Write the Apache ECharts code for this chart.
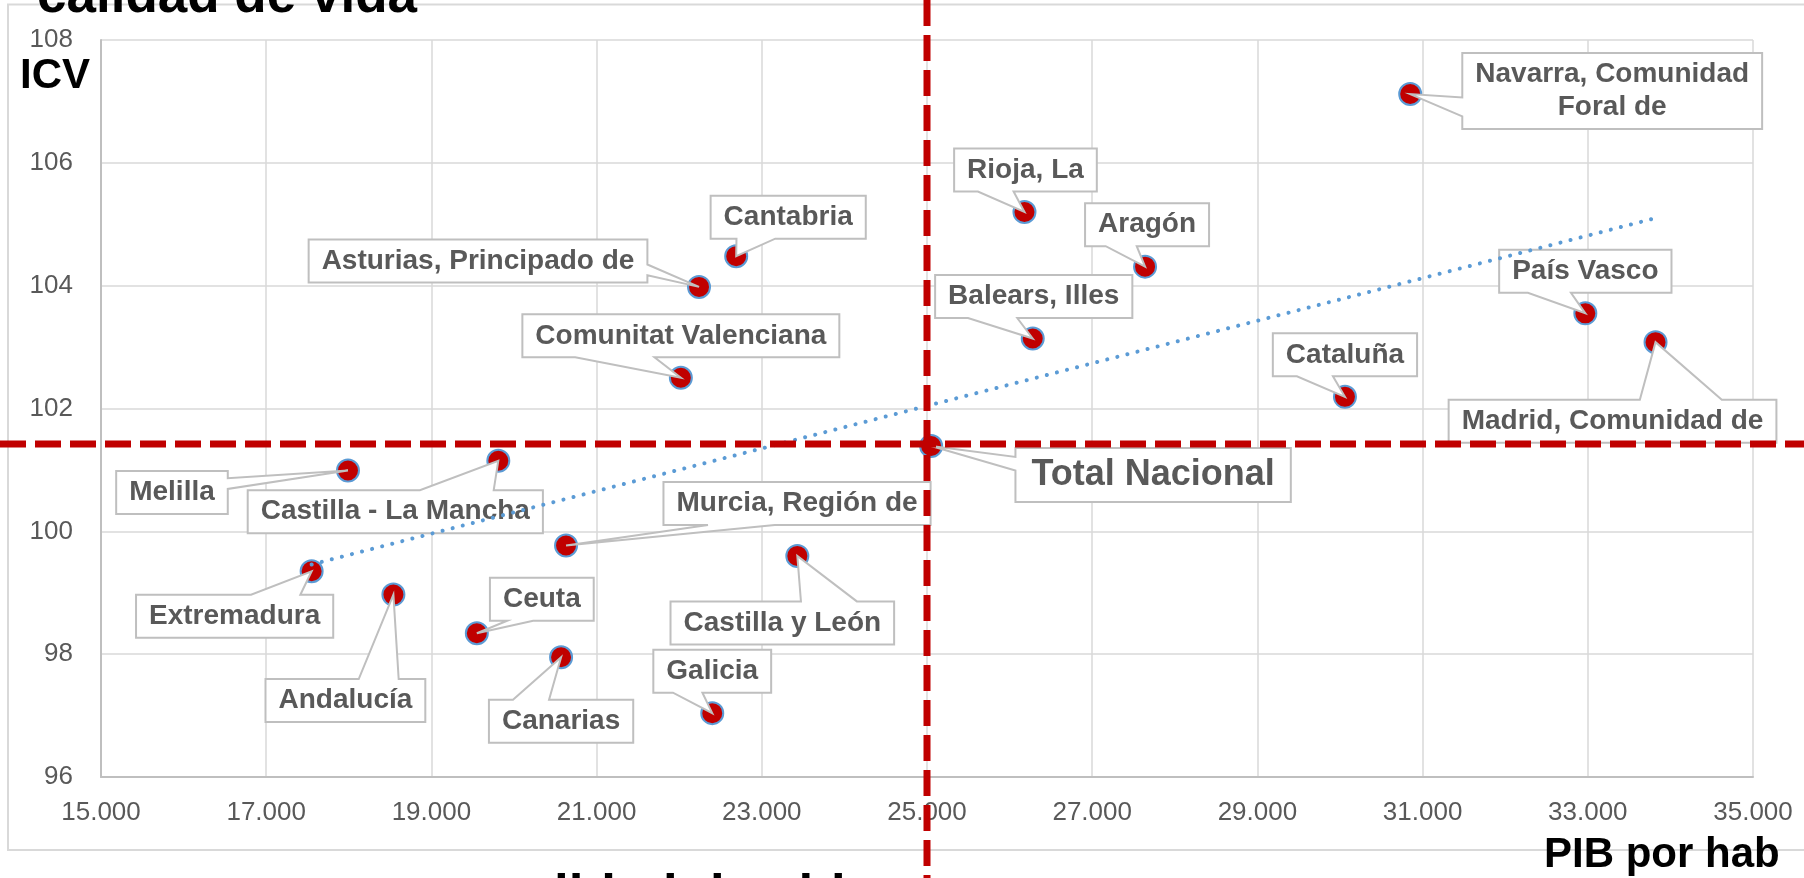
<!DOCTYPE html>
<html>
<head>
<meta charset="utf-8">
<title>PIB por habitante e ICV</title>
<script src="https://cdn.jsdelivr.net/npm/echarts@6/dist/echarts.min.js"></script>
<style>
  html, body { margin: 0; padding: 0; background: #fff; }
  #chart { width: 1804px; height: 878px; }
</style>
</head>
<body>
<div id="chart"></div>
<script>
// Comunidades autónomas: PIB por habitante (x) e índice de calidad de vida (y)
const regiones = [
    'Navarra, Comunidad\nForal de', 'Rioja, La', 'Aragón', 'Cantabria',
    'Asturias, Principado de', 'Balears, Illes', 'País Vasco', 'Madrid, Comunidad de',
    'Comunitat Valenciana', 'Cataluña', 'Total Nacional', 'Melilla',
    'Castilla - La Mancha', 'Murcia, Región de', 'Castilla y León', 'Extremadura',
    'Andalucía', 'Ceuta', 'Canarias', 'Galicia'
];
const pibPorHab = [
    30850, 26180, 27640, 22690,
    22240, 26280, 32970, 33820,
    22020, 30060, 25050, 17990,
    19810, 20630, 23430, 17550,
    18540, 19550, 20570, 22400
];
const icv = [
    107.12, 105.20, 104.31, 104.48,
    103.98, 103.14, 103.55, 103.08,
    102.50, 102.19, 101.39, 100.99,
    101.15, 99.77, 99.60, 99.35,
    98.97, 98.34, 97.95, 97.04
];

// línea de tendencia (extremos)
const tendencia = [[17550, 99.46], [33820, 105.10]];
// líneas de referencia de la media nacional
const mediaPib = 25000;
const mediaIcv = 101.42;

// ejes
const ejeX = { min: 15000, max: 35000, interval: 2000 };
const ejeY = { min: 96, max: 108, interval: 2 };

// desplazamiento (px) del centro de cada etiqueta respecto a su punto
const desplazEtiquetas = [
    [202, -3], [1, -42], [2, -42], [52, -39],
    [-221, -26], [1, -42], [0, -42], [-43, 79],
    [0, -42], [0, -42], [222, 29], [-176, 22],
    [-103, 51], [231, -42], [-15, 67], [-77, 45],
    [-48, 106], [65, -34], [0, 64], [0, -42]
];

const FONT = '"Liberation Sans", Arial, sans-serif';
const measureCtx = document.createElement('canvas').getContext('2d');
function anchoTexto(s, font) {
    measureCtx.font = font;
    return measureCtx.measureText(s).width;
}

// miles con punto: 15000 -> 15.000
function miles(v) {
    return String(v).replace(/\B(?=(\d{3})+(?!\d))/g, '.');
}

// rectángulo con cuña (estilo "llamada" de Excel) apuntando a pt
function llamada(l, t, r, b, pt) {
    const w = r - l, h = b - t;
    const dx = pt[0] - (l + r) / 2, dy = pt[1] - (t + b) / 2;
    const dz = Math.abs(dy) - Math.abs(dx * h / w);
    const xa = l + w * (dx > 0 ? 7 : 2) / 12, xb = l + w * (dx > 0 ? 10 : 5) / 12;
    const ya = t + h * (dy > 0 ? 7 : 2) / 12, yb = t + h * (dy > 0 ? 10 : 5) / 12;
    const pts = [[l, t]];
    if (dz > 0 && dy < 0) pts.push([xa, t], pt, [xb, t]);
    pts.push([r, t]);
    if (dz <= 0 && dx > 0) pts.push([r, ya], pt, [r, yb]);
    pts.push([r, b]);
    if (dz > 0 && dy > 0) pts.push([xb, b], pt, [xa, b]);
    pts.push([l, b]);
    if (dz <= 0 && dx < 0) pts.push([l, yb], pt, [l, ya]);
    return pts;
}

const puntos = regiones.map((n, i) => [pibPorHab[i], icv[i], n]);

const chart = echarts.init(document.getElementById('chart'));

const option = {
    animation: false,
    backgroundColor: '#fff',
    grid: { left: 101, right: 51, top: 40, bottom: 101 },
    xAxis: {
        type: 'value',
        min: ejeX.min, max: ejeX.max, interval: ejeX.interval,
        axisLine: { show: true, lineStyle: { color: '#BFBFBF', width: 2 } },
        axisTick: { show: false },
        axisLabel: {
            margin: 23,
            color: '#595959',
            fontFamily: FONT,
            fontSize: 26,
            formatter: v => miles(v)
        },
        splitLine: { show: true, lineStyle: { color: '#D9D9D9', width: 1.5 } }
    },
    yAxis: {
        type: 'value',
        min: ejeY.min, max: ejeY.max, interval: ejeY.interval,
        axisLine: { show: true, lineStyle: { color: '#BFBFBF', width: 2 } },
        axisTick: { show: false },
        axisLabel: {
            margin: 28,
            color: '#595959',
            fontFamily: FONT,
            fontSize: 26
        },
        splitLine: { show: true, lineStyle: { color: '#D9D9D9', width: 1.5 } }
    },
    graphic: [
        {
            type: 'rect', z: -1, silent: true,
            shape: { x: 8, y: 4.5, width: 1800, height: 845.5 },
            style: { fill: 'none', stroke: '#D9D9D9', lineWidth: 2 }
        },
        {
            type: 'text', z: 10, x: 37, y: -3,
            style: { text: 'calidad de vida', font: 'bold 53px ' + FONT, fill: '#000', verticalAlign: 'middle' }
        },
        {
            type: 'text', z: 10, x: 495, y: 897,
            style: { text: 'calidad de vida', font: 'bold 53px ' + FONT, fill: '#000', verticalAlign: 'middle' }
        },
        {
            type: 'text', z: 10, x: 20, y: 76,
            style: { text: 'ICV', font: 'bold 42px ' + FONT, fill: '#000', verticalAlign: 'middle' }
        },
        {
            type: 'text', z: 10, x: 1544, y: 855,
            style: { text: 'PIB por hab', font: 'bold 42px ' + FONT, fill: '#000', verticalAlign: 'middle' }
        }
    ],
    series: [
        {
            name: 'ICV',
            type: 'scatter',
            z: 2,
            data: puntos,
            symbol: 'circle',
            symbolSize: 22,
            itemStyle: { color: '#C00000', borderColor: '#5B9BD5', borderWidth: 2, opacity: 1 }
        },
        {
            // etiquetas con cuña
            name: 'etiquetas',
            type: 'custom',
            z: 3,
            clip: false,
            silent: true,
            data: puntos,
            encode: { x: 0, y: 1 },
            renderItem: function (params, api) {
                const i = params.dataIndex;
                const p = api.coord([api.value(0), api.value(1)]);
                const lineas = regiones[i].split('\n');
                const grande = regiones[i] === 'Total Nacional';
                const fs = grande ? 36 : 28;
                const lh = grande ? 42 : 33;
                const padX = grande ? 16 : 13;
                const padY = grande ? 6 : 5;
                const font = 'bold ' + fs + 'px ' + FONT;
                const w = Math.max.apply(null, lineas.map(s => anchoTexto(s, font))) + 2 * padX;
                const h = lineas.length * lh + 2 * padY;
                const cx = p[0] + desplazEtiquetas[i][0];
                const cy = p[1] + desplazEtiquetas[i][1];
                const l = cx - w / 2, t = cy - h / 2;
                return {
                    type: 'group',
                    children: [
                        {
                            type: 'polygon',
                            shape: { points: llamada(l, t, l + w, t + h, p) },
                            style: { fill: '#fff', stroke: '#BFBFBF', lineWidth: 2 }
                        },
                        {
                            type: 'text',
                            style: {
                                text: regiones[i],
                                x: cx, y: cy,
                                align: 'center', verticalAlign: 'middle',
                                font: font, lineHeight: lh,
                                fill: '#595959'
                            }
                        }
                    ]
                };
            }
        },
        {
            name: 'Lineal (ICV)',
            type: 'line',
            z: 4,
            data: tendencia,
            symbol: 'none',
            silent: true,
            lineStyle: { color: '#5B9BD5', width: 4, type: [0.1, 10.3], cap: 'round' }
        },
        {
            // medias nacionales
            name: 'media',
            type: 'custom',
            z: 5,
            clip: false,
            silent: true,
            data: [[mediaPib, mediaIcv]],
            renderItem: function (params, api) {
                const c = api.coord([api.value(0), api.value(1)]);
                const estilo = { stroke: '#C00000', lineWidth: 7, lineDash: [26, 9] };
                return {
                    type: 'group',
                    children: [
                        { type: 'line', shape: { x1: 0, y1: c[1], x2: api.getWidth(), y2: c[1] }, style: estilo },
                        { type: 'line', shape: { x1: c[0], y1: 0, x2: c[0], y2: api.getHeight() }, style: estilo }
                    ]
                };
            }
        }
    ]
};

chart.setOption(option);
</script>
</body>
</html>
